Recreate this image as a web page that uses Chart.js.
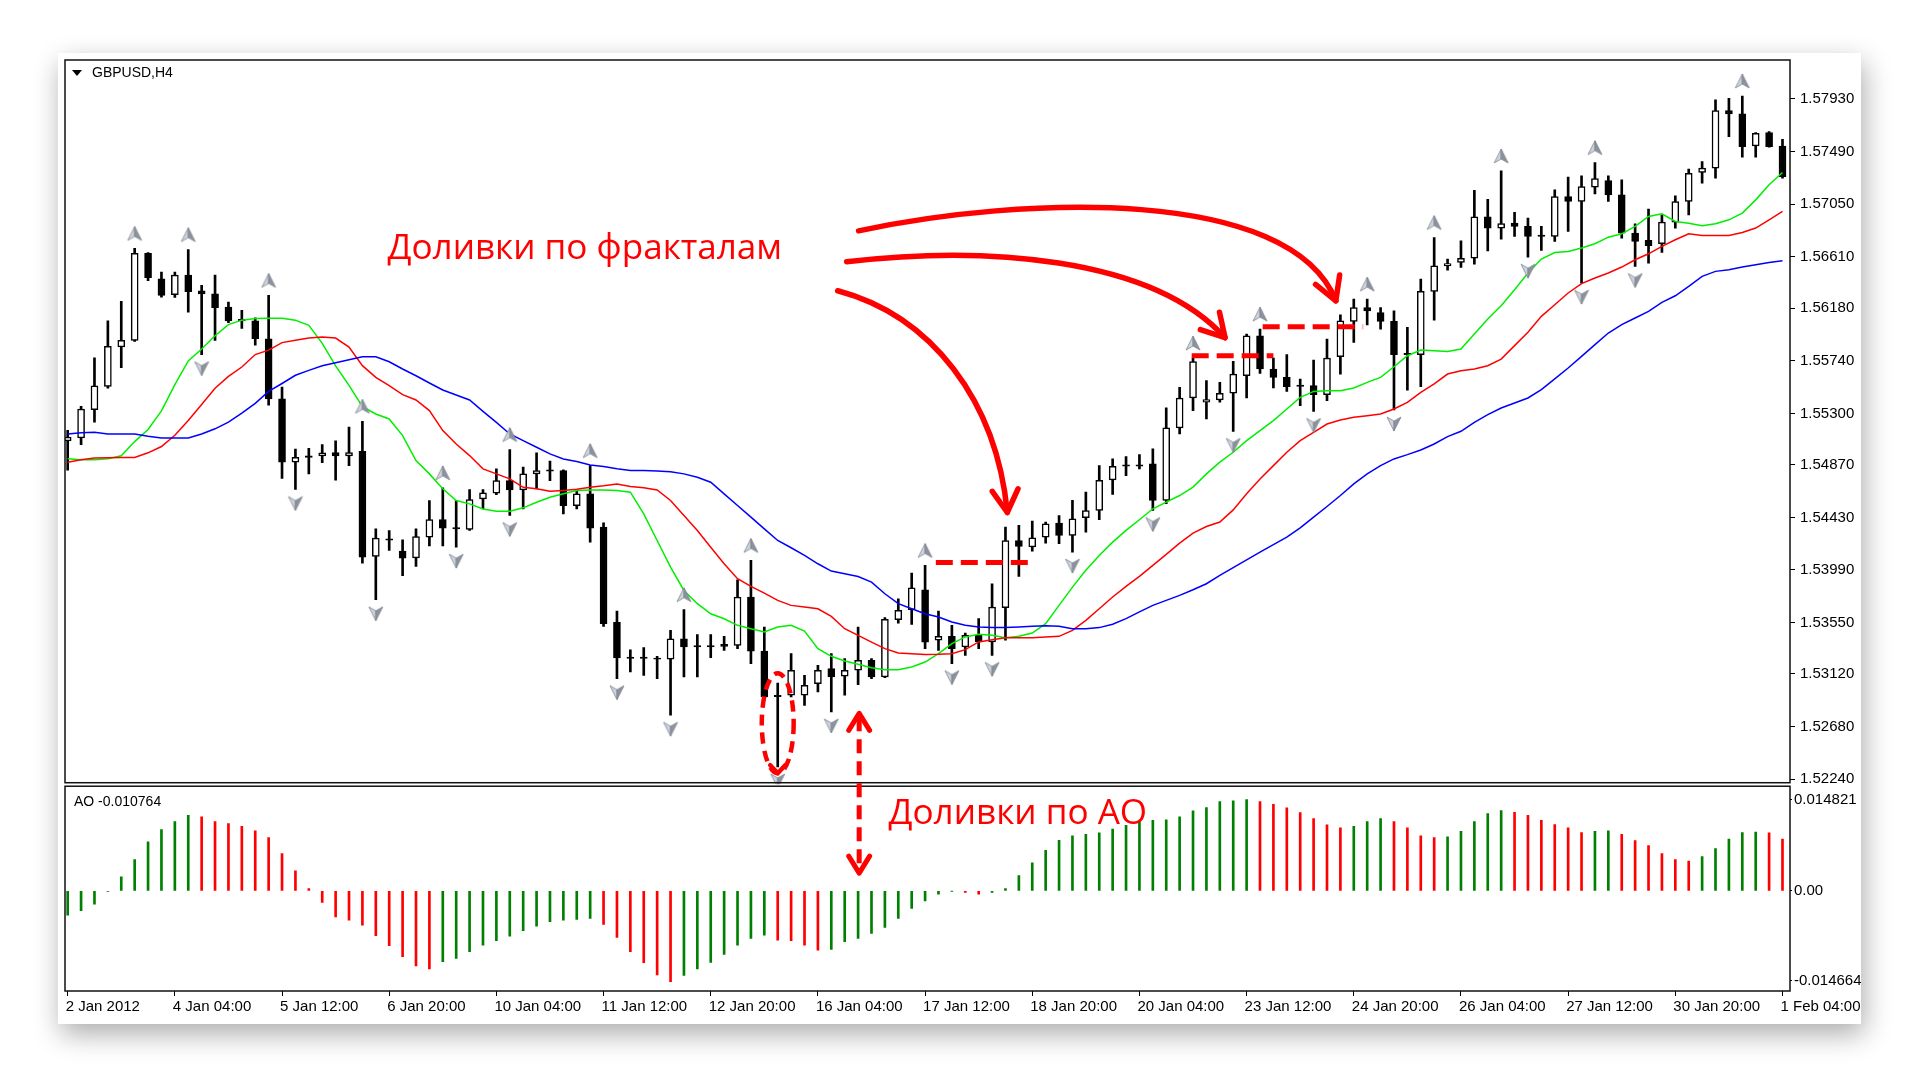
<!DOCTYPE html>
<html>
<head>
<meta charset="utf-8">
<title>GBPUSD,H4</title>
<script src="https://cdn.jsdelivr.net/npm/chart.js@4.4.1/dist/chart.umd.min.js"></script>
<style>
  html, body { margin: 0; padding: 0; background: #fff; }
  .card {
    position: absolute; left: 58px; top: 53px; width: 1803px; height: 971px;
    background: #fff; box-shadow: 3px 10px 26px rgba(0, 0, 0, 0.33);
  }
  canvas { display: block; }
</style>
</head>
<body>
<div class="card"><canvas id="chart" width="1803" height="971"></canvas></div>
<script>
// GBPUSD H4, 2 Jan - 1 Feb 2012
const opens = [
  1.55070, 1.55095, 1.55331, 1.55525, 1.55855, 1.55911, 1.56639, 1.56425, 1.56294, 1.56457,
  1.56325, 1.56300, 1.56190, 1.56087, 1.56074, 1.55924, 1.55422, 1.54892, 1.54945, 1.54945,
  1.54973, 1.54945, 1.54983, 1.54103, 1.54251, 1.54148, 1.54092, 1.54265, 1.54412, 1.54345,
  1.54329, 1.54585, 1.54632, 1.54738, 1.54660, 1.54794, 1.54827, 1.54822, 1.54529, 1.54627,
  1.54348, 1.53552, 1.53262, 1.53262, 1.53254, 1.53243, 1.53415, 1.53357, 1.53357, 1.53368,
  1.53360, 1.53763, 1.53312, 1.52942, 1.52942, 1.52942, 1.53039, 1.53165, 1.53101, 1.53151,
  1.53234, 1.53095, 1.53574, 1.53658, 1.53825, 1.53402, 1.53435, 1.53346, 1.53444, 1.53388,
  1.53675, 1.54237, 1.54182, 1.54265, 1.54382, 1.54279, 1.54427, 1.54488, 1.54744, 1.54870,
  1.54870, 1.54878, 1.54572, 1.55179, 1.55429, 1.55393, 1.55413, 1.55470, 1.55615, 1.55949,
  1.55671, 1.55601, 1.55537, 1.55532, 1.55456, 1.55774, 1.56069, 1.56186, 1.56144, 1.56069,
  1.55802, 1.55791, 1.56320, 1.56534, 1.56562, 1.56598, 1.56944, 1.56849, 1.56891, 1.56864,
  1.56791, 1.56780, 1.57114, 1.57072, 1.57192, 1.57248, 1.57128, 1.56808, 1.56747, 1.56719,
  1.56900, 1.57072, 1.57315, 1.57351, 1.57833, 1.57805, 1.57537, 1.57649, 1.57537
];
const highs = [
  1.55158, 1.55359, 1.55765, 1.56074, 1.56237, 1.56680, 1.56645, 1.56482, 1.56482, 1.56670,
  1.56372, 1.56457, 1.56231, 1.56162, 1.56099, 1.56287, 1.55519, 1.55001, 1.55008, 1.55039,
  1.55070, 1.55186, 1.55234, 1.54334, 1.54320, 1.54242, 1.54334, 1.54571, 1.54677, 1.54571,
  1.54663, 1.54663, 1.54836, 1.54997, 1.54850, 1.54969, 1.54900, 1.54827, 1.54660, 1.54863,
  1.54384, 1.53646, 1.53323, 1.53340, 1.53268, 1.53485, 1.53658, 1.53449, 1.53449, 1.53435,
  1.53908, 1.54070, 1.53513, 1.53045, 1.53290, 1.53109, 1.53192, 1.53290, 1.53248, 1.53513,
  1.53248, 1.53591, 1.53749, 1.53964, 1.54028, 1.53647, 1.53527, 1.53463, 1.53583, 1.53875,
  1.54349, 1.54363, 1.54399, 1.54391, 1.54446, 1.54572, 1.54641, 1.54864, 1.54920, 1.54939,
  1.54956, 1.55003, 1.55346, 1.55518, 1.55763, 1.55574, 1.55560, 1.55735, 1.55963, 1.56005,
  1.55763, 1.55791, 1.55587, 1.55746, 1.55922, 1.56125, 1.56256, 1.56256, 1.56186, 1.56158,
  1.56019, 1.56423, 1.56771, 1.56590, 1.56743, 1.57166, 1.57091, 1.57328, 1.56981, 1.56933,
  1.56864, 1.57170, 1.57276, 1.57287, 1.57398, 1.57287, 1.57253, 1.56886, 1.57008, 1.56961,
  1.57120, 1.57343, 1.57407, 1.57922, 1.57936, 1.57955, 1.57649, 1.57657, 1.57593
];
const lows = [
  1.54826, 1.55039, 1.55227, 1.55510, 1.55682, 1.55902, 1.56410, 1.56272, 1.56269, 1.56146,
  1.55792, 1.55911, 1.56058, 1.56011, 1.55870, 1.55368, 1.54757, 1.54663, 1.54794, 1.54888,
  1.54741, 1.54863, 1.54047, 1.53741, 1.54153, 1.53942, 1.54020, 1.54192, 1.54192, 1.54181,
  1.54320, 1.54501, 1.54621, 1.54446, 1.54501, 1.54669, 1.54738, 1.54460, 1.54501, 1.54223,
  1.53518, 1.53081, 1.53137, 1.53109, 1.53081, 1.52775, 1.53095, 1.53095, 1.53256, 1.53318,
  1.53332, 1.53206, 1.52922, 1.52343, 1.52928, 1.52858, 1.52970, 1.52803, 1.52942, 1.53031,
  1.53081, 1.53089, 1.53546, 1.53535, 1.53332, 1.53318, 1.53207, 1.53276, 1.53332, 1.53276,
  1.53402, 1.53937, 1.54148, 1.54215, 1.54210, 1.54140, 1.54307, 1.54410, 1.54622, 1.54780,
  1.54836, 1.54488, 1.54544, 1.55128, 1.55323, 1.55254, 1.55393, 1.55150, 1.55429, 1.55635,
  1.55512, 1.55484, 1.55364, 1.55317, 1.55406, 1.55629, 1.55894, 1.56041, 1.56005, 1.55328,
  1.55495, 1.55523, 1.56080, 1.56498, 1.56520, 1.56548, 1.56660, 1.56757, 1.56780, 1.56607,
  1.56663, 1.56738, 1.56822, 1.56390, 1.57136, 1.57072, 1.56766, 1.56529, 1.56557, 1.56646,
  1.56850, 1.56961, 1.57226, 1.57267, 1.57615, 1.57443, 1.57443, 1.57526, 1.57267
];
const closes = [
  1.55102, 1.55337, 1.55531, 1.55861, 1.55911, 1.56639, 1.56435, 1.56287, 1.56457, 1.56319,
  1.56300, 1.56184, 1.56074, 1.56074, 1.55924, 1.55422, 1.54892, 1.54932, 1.54932, 1.54970,
  1.54945, 1.54973, 1.54098, 1.54256, 1.54240, 1.54089, 1.54270, 1.54412, 1.54340, 1.54334,
  1.54579, 1.54635, 1.54738, 1.54660, 1.54794, 1.54822, 1.54816, 1.54529, 1.54627, 1.54340,
  1.53541, 1.53254, 1.53251, 1.53251, 1.53243, 1.53415, 1.53346, 1.53346, 1.53346, 1.53351,
  1.53763, 1.53312, 1.52928, 1.52931, 1.53151, 1.53025, 1.53151, 1.53095, 1.53151, 1.53234,
  1.53095, 1.53577, 1.53652, 1.53841, 1.53387, 1.53435, 1.53332, 1.53444, 1.53388, 1.53680,
  1.54237, 1.54187, 1.54260, 1.54377, 1.54279, 1.54418, 1.54488, 1.54739, 1.54858, 1.54858,
  1.54858, 1.54572, 1.55179, 1.55429, 1.55734, 1.55415, 1.55468, 1.55629, 1.55949, 1.55671,
  1.55601, 1.55523, 1.55526, 1.55456, 1.55763, 1.56075, 1.56186, 1.56158, 1.56069, 1.55791,
  1.55791, 1.56320, 1.56534, 1.56554, 1.56598, 1.56944, 1.56849, 1.56888, 1.56864, 1.56780,
  1.56780, 1.57114, 1.57072, 1.57198, 1.57265, 1.57128, 1.56808, 1.56738, 1.56702, 1.56900,
  1.57072, 1.57309, 1.57351, 1.57833, 1.57805, 1.57532, 1.57643, 1.57532, 1.57281
];

// Alligator: jaw (blue), teeth (red), lips (lime)
const jaw = [
  1.55127, 1.55139, 1.55142, 1.55127, 1.55127, 1.55127, 1.55108, 1.55095, 1.55095, 1.55095,
  1.55127, 1.55171, 1.55227, 1.55302, 1.55384, 1.55484, 1.55550, 1.55619, 1.55660, 1.55698,
  1.55723, 1.55748, 1.55774, 1.55774, 1.55732, 1.55671, 1.55615, 1.55554, 1.55496, 1.55454,
  1.55412, 1.55317, 1.55225, 1.55128, 1.55072, 1.55017, 1.54961, 1.54919, 1.54897, 1.54869,
  1.54855, 1.54836, 1.54822, 1.54822, 1.54819, 1.54811, 1.54794, 1.54766, 1.54724, 1.54627,
  1.54529, 1.54432, 1.54334, 1.54237, 1.54176, 1.54112, 1.54042, 1.53981, 1.53958, 1.53936,
  1.53889, 1.53791, 1.53708, 1.53666, 1.53624, 1.53597, 1.53555, 1.53527, 1.53513, 1.53508,
  1.53508, 1.53513, 1.53519, 1.53524, 1.53519, 1.53499, 1.53499, 1.53508, 1.53536, 1.53583,
  1.53639, 1.53694, 1.53736, 1.53778, 1.53825, 1.53875, 1.53945, 1.54010, 1.54075, 1.54139,
  1.54203, 1.54264, 1.54342, 1.54432, 1.54521, 1.54613, 1.54710, 1.54794, 1.54863, 1.54919,
  1.54955, 1.54994, 1.55044, 1.55106, 1.55150, 1.55225, 1.55289, 1.55345, 1.55387, 1.55429,
  1.55499, 1.55588, 1.55680, 1.55777, 1.55875, 1.55972, 1.56042, 1.56098, 1.56153, 1.56229,
  1.56284, 1.56362, 1.56446, 1.56488, 1.56501, 1.56524, 1.56543, 1.56563, 1.56577
];
const teeth = [
  1.54892, 1.54913, 1.54926, 1.54929, 1.54932, 1.54932, 1.54970, 1.55023, 1.55117, 1.55240,
  1.55375, 1.55510, 1.55610, 1.55688, 1.55792, 1.55829, 1.55892, 1.55911, 1.55930, 1.55939,
  1.55930, 1.55855, 1.55699, 1.55601, 1.55532, 1.55457, 1.55412, 1.55323, 1.55156, 1.55044,
  1.54947, 1.54836, 1.54794, 1.54752, 1.54682, 1.54669, 1.54649, 1.54655, 1.54666, 1.54682,
  1.54694, 1.54710, 1.54688, 1.54677, 1.54660, 1.54571, 1.54446, 1.54320, 1.54181, 1.54042,
  1.53917, 1.53853, 1.53797, 1.53736, 1.53694, 1.53680, 1.53666, 1.53602, 1.53499, 1.53443,
  1.53387, 1.53332, 1.53295, 1.53290, 1.53284, 1.53285, 1.53290, 1.53324, 1.53388, 1.53407,
  1.53424, 1.53424, 1.53424, 1.53430, 1.53435, 1.53485, 1.53569, 1.53666, 1.53764, 1.53853,
  1.53937, 1.54028, 1.54120, 1.54215, 1.54299, 1.54354, 1.54391, 1.54493, 1.54627, 1.54752,
  1.54863, 1.54975, 1.55072, 1.55142, 1.55211, 1.55245, 1.55267, 1.55281, 1.55295, 1.55337,
  1.55392, 1.55476, 1.55546, 1.55629, 1.55657, 1.55671, 1.55699, 1.55754, 1.55867, 1.55978,
  1.56112, 1.56209, 1.56307, 1.56385, 1.56432, 1.56474, 1.56524, 1.56585, 1.56635, 1.56697,
  1.56752, 1.56802, 1.56788, 1.56788, 1.56788, 1.56813, 1.56850, 1.56919, 1.56989
];
const lips = [
  1.54920, 1.54913, 1.54913, 1.54920, 1.54945, 1.55064, 1.55165, 1.55321, 1.55541, 1.55739,
  1.55839, 1.55949, 1.56043, 1.56080, 1.56093, 1.56096, 1.56096, 1.56080, 1.56036, 1.55886,
  1.55698, 1.55535, 1.55356, 1.55295, 1.55253, 1.55114, 1.54905, 1.54794, 1.54669, 1.54571,
  1.54543, 1.54501, 1.54482, 1.54482, 1.54510, 1.54557, 1.54599, 1.54627, 1.54655, 1.54660,
  1.54660, 1.54655, 1.54641, 1.54460, 1.54237, 1.54014, 1.53819, 1.53708, 1.53624, 1.53582,
  1.53527, 1.53499, 1.53471, 1.53513, 1.53527, 1.53479, 1.53332, 1.53268, 1.53229, 1.53201,
  1.53173, 1.53156, 1.53156, 1.53179, 1.53220, 1.53290, 1.53374, 1.53430, 1.53452, 1.53444,
  1.53424, 1.53435, 1.53463, 1.53541, 1.53694, 1.53847, 1.53987, 1.54112, 1.54223, 1.54321,
  1.54410, 1.54502, 1.54558, 1.54613, 1.54683, 1.54794, 1.54892, 1.54975, 1.55072, 1.55156,
  1.55239, 1.55337, 1.55434, 1.55484, 1.55490, 1.55490, 1.55512, 1.55559, 1.55601, 1.55690,
  1.55782, 1.55830, 1.55824, 1.55818, 1.55838, 1.55963, 1.56089, 1.56200, 1.56334, 1.56474,
  1.56591, 1.56646, 1.56655, 1.56683, 1.56719, 1.56774, 1.56802, 1.56864, 1.56947, 1.56969,
  1.56905, 1.56891, 1.56869, 1.56886, 1.56919, 1.56975, 1.57086, 1.57212, 1.57315
];

// Awesome Oscillator
const aoValues = [
  -0.00397, -0.00326, -0.00217, -0.00010, 0.00228, 0.00510, 0.00798, 0.00999, 0.01129, 0.01233,
  0.01205, 0.01129, 0.01097, 0.01053, 0.00977, 0.00869, 0.00608, 0.00326, 0.00038, -0.00190,
  -0.00424, -0.00478, -0.00559, -0.00733, -0.00896, -0.01075, -0.01227, -0.01276, -0.01157, -0.01102,
  -0.00994, -0.00885, -0.00815, -0.00738, -0.00652, -0.00576, -0.00505, -0.00478, -0.00467, -0.00451,
  -0.00548, -0.00760, -0.00994, -0.01173, -0.01374, -0.01482, -0.01379, -0.01276, -0.01167, -0.01037,
  -0.00885, -0.00776, -0.00722, -0.00804, -0.00815, -0.00885, -0.00967, -0.00956, -0.00831, -0.00776,
  -0.00695, -0.00597, -0.00451, -0.00288, -0.00163, -0.00054, -0.00005, -0.00027, -0.00054, -0.00027,
  0.00038, 0.00250, 0.00456, 0.00662, 0.00825, 0.00896, 0.00923, 0.00945, 0.01005, 0.01070,
  0.01124, 0.01151, 0.01157, 0.01205, 0.01303, 0.01358, 0.01455, 0.01466, 0.01488, 0.01455,
  0.01412, 0.01352, 0.01276, 0.01178, 0.01076, 0.01026, 0.01053, 0.01129, 0.01178, 0.01129,
  0.01026, 0.00896, 0.00869, 0.00880, 0.00972, 0.01129, 0.01260, 0.01309, 0.01281, 0.01233,
  0.01151, 0.01081, 0.01026, 0.00950, 0.00972, 0.00977, 0.00923, 0.00820, 0.00738, 0.00608,
  0.00510, 0.00483, 0.00559, 0.00690, 0.00842, 0.00950, 0.00956, 0.00945, 0.00842
];

// bars carrying a Bill Williams fractal
const fractalUp = [5, 9, 15, 22, 28, 33, 39, 46, 51, 64, 84, 89, 97, 102, 107, 114, 125];
const fractalDown = [10, 17, 23, 29, 33, 41, 45, 53, 57, 66, 69, 75, 81, 87, 93, 99, 109, 113, 117];

// one time label every 8 bars
const dateLabels = ['2 Jan 2012', '4 Jan 04:00', '5 Jan 12:00', '6 Jan 20:00', '10 Jan 04:00',
  '11 Jan 12:00', '12 Jan 20:00', '16 Jan 04:00', '17 Jan 12:00', '18 Jan 20:00', '20 Jan 04:00',
  '23 Jan 12:00', '24 Jan 20:00', '26 Jan 04:00', '27 Jan 12:00', '30 Jan 20:00', '1 Feb 04:00'];
const labelStep = 8;
const priceTicks = [1.57930, 1.57490, 1.57050, 1.56610, 1.56180, 1.55740, 1.55300,
  1.54870, 1.54430, 1.53990, 1.53550, 1.53120, 1.52680, 1.52240];
const aoTicks = [0.014821, 0, -0.014664];

// hand-drawn red marks: fractal breakout levels [fromBar, toBar, price]
const breakoutFrom = [64.8, 83.9, 89.2];
const breakoutTo = [72.1, 90.0, 96.7];
const breakoutLevel = [1.54053, 1.55782, 1.56025];

const RED = '#ff0000';
const axisFont = { family: 'Liberation Sans, Arial, sans-serif', size: 15 };

function fractalIcon(up) {
  const c = document.createElement('canvas');
  c.width = 18;
  c.height = 50;
  const g = c.getContext('2d');
  g.translate(9, up ? 10 : 39);
  if (!up) g.scale(1, -1);
  g.lineWidth = 0.8;
  g.strokeStyle = '#7f8591';
  g.beginPath();
  g.moveTo(0, -7); g.lineTo(0, 3); g.lineTo(-7, 7); g.closePath();
  g.fillStyle = '#cfd3dc';
  g.fill(); g.stroke();
  g.beginPath();
  g.moveTo(0, -7); g.lineTo(7, 7); g.lineTo(0, 3); g.closePath();
  g.fillStyle = '#8d939e';
  g.fill(); g.stroke();
  return c;
}

const bars = opens.map((_, i) => i);

const datasets = [
  {
    type: 'line', label: 'Jaw', data: bars.map(i => ({ x: i, y: jaw[i] })),
    borderColor: '#0000ff', borderWidth: 1.5, pointRadius: 0, tension: 0, order: 1
  },
  {
    type: 'line', label: 'Teeth', data: bars.map(i => ({ x: i, y: teeth[i] })),
    borderColor: '#ff0000', borderWidth: 1.5, pointRadius: 0, tension: 0, order: 1
  },
  {
    type: 'line', label: 'Lips', data: bars.map(i => ({ x: i, y: lips[i] })),
    borderColor: '#00ee00', borderWidth: 1.5, pointRadius: 0, tension: 0, order: 1
  },
  {
    type: 'bar', label: 'Body', data: bars.map(i => ({ x: i, y: [opens[i], closes[i]] })),
    backgroundColor: bars.map(i => closes[i] >= opens[i] ? '#ffffff' : '#000000'),
    borderColor: '#000', borderWidth: 1.5, borderSkipped: false,
    barThickness: 7, grouped: false, order: 2
  },
  {
    type: 'bar', label: 'Wick', data: bars.map(i => ({ x: i, y: [lows[i], highs[i]] })),
    backgroundColor: '#000', barThickness: 2, grouped: false, order: 3
  },
  {
    type: 'line', label: 'Fractal up', data: fractalUp.map(i => ({ x: i, y: highs[i] })),
    showLine: false, pointStyle: fractalIcon(true), pointRadius: 6, order: 0
  },
  {
    type: 'line', label: 'Fractal down', data: fractalDown.map(i => ({ x: i, y: lows[i] })),
    showLine: false, pointStyle: fractalIcon(false), pointRadius: 6, order: 0
  },
  {
    type: 'bar', label: 'AO', yAxisID: 'yAO', data: bars.map(i => ({ x: i, y: aoValues[i] })),
    backgroundColor: aoValues.map((v, i) => (i === 0 || v > aoValues[i - 1]) ? '#008000' : '#ff0000'),
    barThickness: 2, grouped: false, order: 2
  }
];

breakoutLevel.forEach((lvl, k) => {
  datasets.push({
    type: 'line', label: 'Level ' + k,
    data: [{ x: breakoutFrom[k], y: lvl }, { x: breakoutTo[k], y: lvl }],
    borderColor: RED, borderWidth: 5, borderDash: [17, 8], borderCapStyle: 'butt',
    pointRadius: 0, order: 0
  });
});

// curved arrows, control points as [bar, price]
const curvedArrows = [
  [[59.04, 1.56827], [71.18, 1.57119], [91.30, 1.57203], [94.66, 1.56242]],
  [[58.14, 1.56568], [68.20, 1.56702], [80.87, 1.56618], [86.39, 1.55933]],
  [[57.48, 1.56326], [64.48, 1.56117], [69.32, 1.55407], [70.14, 1.54471]]
];
const noteFractals = { text: 'Доливки по фракталам', bar: 23.87, price: 1.56593, width: 395 };
const noteAO = { text: 'Доливки по АО', bar: 61.27, ao: 0.01087 };
const lowCircle = { bar: 53.0, price: 1.52708, barRadius: 1.19, priceRadius: 0.00418 };
const aoPointer = { bar: 59.08, price: 1.52791, ao: 0.00288 };

function arrowHead(ctx, tip, from, len, spread) {
  const a = Math.atan2(tip[1] - from[1], tip[0] - from[0]);
  ctx.beginPath();
  ctx.moveTo(tip[0] - len * Math.cos(a - spread), tip[1] - len * Math.sin(a - spread));
  ctx.lineTo(tip[0], tip[1]);
  ctx.lineTo(tip[0] - len * Math.cos(a + spread), tip[1] - len * Math.sin(a + spread));
  ctx.stroke();
}

const overlay = {
  id: 'overlay',
  afterDraw(chart) {
    const { ctx, chartArea } = chart;
    const sx = chart.scales.x, sy = chart.scales.y, sa = chart.scales.yAO;
    ctx.save();

    // window frames (price pane + AO pane)
    ctx.strokeStyle = '#111';
    ctx.lineWidth = 1.5;
    ctx.strokeRect(chartArea.left, chartArea.top, chartArea.right - chartArea.left, sy.bottom - 1.5 - chartArea.top);
    ctx.strokeRect(chartArea.left, sa.top + 2, chartArea.right - chartArea.left, sa.bottom - sa.top - 2);

    // captions
    ctx.fillStyle = '#000';
    ctx.beginPath();
    ctx.moveTo(chartArea.left + 7, chartArea.top + 10);
    ctx.lineTo(chartArea.left + 17, chartArea.top + 10);
    ctx.lineTo(chartArea.left + 12, chartArea.top + 16);
    ctx.closePath();
    ctx.fill();
    ctx.font = '14px "Liberation Sans", Arial, sans-serif';
    ctx.textBaseline = 'middle';
    ctx.fillText('GBPUSD,H4', chartArea.left + 27, chartArea.top + 13.5);
    ctx.fillText('AO -0.010764', chartArea.left + 9, sa.top + 18);

    // red hand annotations
    ctx.strokeStyle = RED;
    ctx.fillStyle = RED;
    ctx.lineCap = 'round';
    ctx.lineJoin = 'round';
    ctx.lineWidth = 5.5;
    curvedArrows.forEach(pts => {
      const p = pts.map(([b, v]) => [sx.getPixelForValue(b), sy.getPixelForValue(v)]);
      ctx.beginPath();
      ctx.moveTo(p[0][0], p[0][1]);
      ctx.bezierCurveTo(p[1][0], p[1][1], p[2][0], p[2][1], p[3][0], p[3][1]);
      ctx.stroke();
      arrowHead(ctx, p[3], p[2], 26, 0.52);
    });

    // dashed ring round the fractal low
    const cx = sx.getPixelForValue(lowCircle.bar);
    const cy = sy.getPixelForValue(lowCircle.price);
    const rx = sx.getPixelForValue(lowCircle.bar + lowCircle.barRadius) - cx;
    const ry = sy.getPixelForValue(lowCircle.price - lowCircle.priceRadius) - cy;
    ctx.lineWidth = 4.5;
    ctx.lineCap = 'butt';
    ctx.setLineDash([11, 7]);
    ctx.beginPath();
    ctx.ellipse(cx, cy, rx, ry, 0, 0, Math.PI * 2);
    ctx.stroke();
    ctx.setLineDash([]);
    ctx.lineCap = 'round';
    arrowHead(ctx, [cx, cy + ry], [cx, cy + ry - 20], 11, 0.75);

    // dashed pointer between price pane and AO
    const ax = sx.getPixelForValue(aoPointer.bar);
    const ay1 = sy.getPixelForValue(aoPointer.price);
    const ay2 = sa.getPixelForValue(aoPointer.ao);
    ctx.lineWidth = 5;
    ctx.lineCap = 'butt';
    ctx.setLineDash([14, 8]);
    ctx.beginPath();
    ctx.moveTo(ax, ay1 + 4);
    ctx.lineTo(ax, ay2 - 4);
    ctx.stroke();
    ctx.setLineDash([]);
    ctx.lineCap = 'round';
    arrowHead(ctx, [ax, ay1], [ax, ay1 + 20], 20, 0.55);
    arrowHead(ctx, [ax, ay2], [ax, ay2 - 20], 20, 0.55);

    // notes
    const family = '"Open Sans", "Noto Sans", sans-serif';
    ctx.font = '40px ' + family;
    const size = 40 * noteFractals.width / ctx.measureText(noteFractals.text).width;
    ctx.font = size.toFixed(1) + 'px ' + family;
    ctx.textBaseline = 'alphabetic';
    ctx.fillText(noteFractals.text, sx.getPixelForValue(noteFractals.bar), sy.getPixelForValue(noteFractals.price));
    ctx.fillText(noteAO.text, sx.getPixelForValue(noteAO.bar), sa.getPixelForValue(noteAO.ao));
    ctx.restore();
  }
};

function noPad(s) {
  s.paddingLeft = 0; s.paddingRight = 0; s.paddingTop = 0; s.paddingBottom = 0;
}

new Chart(document.getElementById('chart'), {
  type: 'bar',
  data: { datasets },
  options: {
    responsive: false,
    animation: false,
    events: [],
    layout: { padding: { left: 4, top: 6, right: 0, bottom: 0 } },
    plugins: { legend: { display: false }, tooltip: { enabled: false } },
    scales: {
      x: {
        type: 'linear', position: 'bottom', min: -0.2, max: 128.56, offset: false,
        border: { display: false },
        grid: { drawOnChartArea: false, offset: false, tickLength: 5, color: '#000' },
        ticks: {
          autoSkip: false, maxRotation: 0, align: 'start', labelOffset: -2, padding: 2,
          color: '#000', font: axisFont,
          callback: v => dateLabels[Math.round(v / labelStep)]
        },
        afterBuildTicks: s => { s.ticks = dateLabels.map((_, k) => ({ value: k * labelStep })); },
        afterFit: s => { s.height = 33; noPad(s); }
      },
      y: {
        type: 'linear', position: 'right', stack: 'panes', stackWeight: 725, weight: 0,
        min: 1.52198, max: 1.58256,
        border: { display: false },
        grid: { drawOnChartArea: false, tickLength: 5, color: '#000' },
        ticks: { autoSkip: false, padding: 5, color: '#000', font: axisFont, callback: v => v.toFixed(5) },
        afterBuildTicks: s => { s.ticks = priceTicks.map(v => ({ value: v })); },
        afterFit: s => { s.width = 71; noPad(s); }
      },
      yAO: {
        type: 'linear', position: 'right', stack: 'panes', stackWeight: 207, weight: 1,
        min: -0.016344, max: 0.017386,
        border: { display: false },
        grid: { drawOnChartArea: false, tickLength: 2, color: '#000' },
        ticks: {
          autoSkip: false, padding: 2, color: '#000', font: axisFont,
          callback: v => v === 0 ? '0.00' : v.toFixed(6)
        },
        afterBuildTicks: s => { s.ticks = aoTicks.map(v => ({ value: v })); },
        afterFit: s => { s.width = 71; noPad(s); }
      }
    }
  },
  plugins: [overlay]
});
</script>
</body>
</html>
